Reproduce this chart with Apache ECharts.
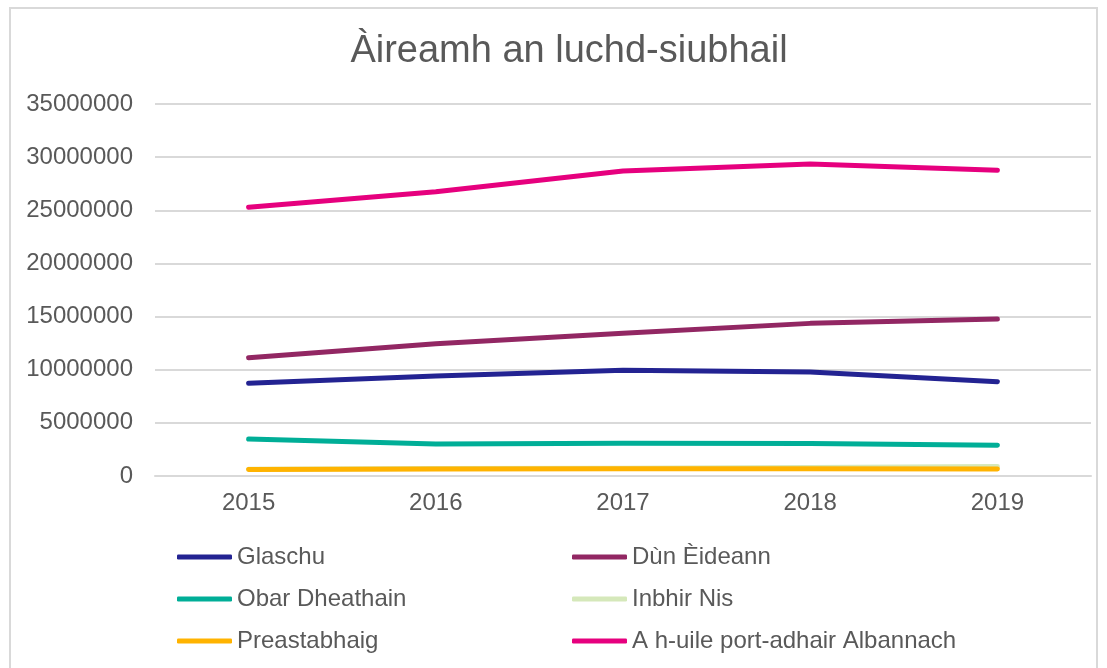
<!DOCTYPE html>
<html>
<head>
<meta charset="utf-8">
<script src="https://cdn.jsdelivr.net/npm/echarts@6/dist/echarts.min.js"></script>
<style>
  html, body { margin: 0; padding: 0; background: #fff; }
  #chart { width: 1107px; height: 668px; }
</style>
</head>
<body>
<div id="chart"></div>
<script>
// categories and values
const years = ['2015', '2016', '2017', '2018', '2019']
const glaschu = [8720000, 9410000, 9940000, 9780000, 8870000]
const dunEideann = [11130000, 12450000, 13420000, 14360000, 14770000]
const obarDheathain = [3480000, 3000000, 3070000, 3060000, 2900000]
const inbhirNis = [630000, 700000, 740000, 800000, 900000]
const preastabhaig = [620000, 670000, 690000, 680000, 650000]
const uileAlba = [25280000, 26750000, 28700000, 29350000, 28760000]

const seriesNames = ['Glaschu', 'Dùn Èideann', 'Obar Dheathain', 'Inbhir Nis', 'Preastabhaig', 'A h-uile port-adhair Albannach']
const seriesColors = ['#232392', '#922763', '#00AE97', '#D5E8BA', '#FFB300', '#E6007E']
const seriesData = [glaschu, dunEideann, obarDheathain, inbhirNis, preastabhaig, uileAlba]

const font = 'Liberation Sans, Arial, sans-serif'
const textColor = '#595959'

const legendBase = {
  orient: 'vertical',
  top: 543,
  padding: 0,
  icon: 'roundRect',
  itemWidth: 55,
  itemHeight: 5,
  itemGap: 14,
  textStyle: { color: textColor, fontSize: 24, fontFamily: font, lineHeight: 28 }
}

const option = {
  animation: false,
  title: {
    text: 'Àireamh an luchd-siubhail',
    left: 564,
    top: 28,
    textAlign: 'center',
    textStyle: { color: textColor, fontSize: 38, fontWeight: 'normal', fontFamily: font }
  },
  graphic: [{
    type: 'rect',
    shape: { x: 10, y: 8, width: 1087, height: 700 },
    style: { fill: 'none', stroke: '#D9D9D9', lineWidth: 2 },
    silent: true
  }],
  legend: [
    Object.assign({}, legendBase, { left: 177, data: ['Glaschu', 'Obar Dheathain', 'Preastabhaig'] }),
    Object.assign({}, legendBase, { left: 572, data: ['Dùn Èideann', 'Inbhir Nis', 'A h-uile port-adhair Albannach'] })
  ],
  grid: { left: 155, right: 16, top: 104, bottom: 192 },
  xAxis: {
    type: 'category',
    data: years,
    boundaryGap: true,
    axisLine: { show: true, lineStyle: { color: '#D9D9D9', width: 2 } },
    axisTick: { show: false },
    axisLabel: { color: textColor, fontSize: 24, fontFamily: font, margin: 15 }
  },
  yAxis: {
    type: 'value',
    min: 0,
    max: 35000000,
    interval: 5000000,
    axisLine: { show: false },
    axisTick: { show: false },
    axisLabel: {
      color: textColor,
      fontSize: 24,
      fontFamily: font,
      margin: 22,
      formatter: function (v) { return String(v) }
    },
    splitLine: { lineStyle: { color: '#D9D9D9', width: 2 } }
  },
  series: seriesNames.map((name, i) => ({
    name: name,
    type: 'line',
    data: seriesData[i],
    symbol: 'none',
    color: seriesColors[i],
    lineStyle: { width: 5, cap: 'round', join: 'round' }
  }))
}

const chart = echarts.init(document.getElementById('chart'))
chart.setOption(option)
</script>
</body>
</html>
